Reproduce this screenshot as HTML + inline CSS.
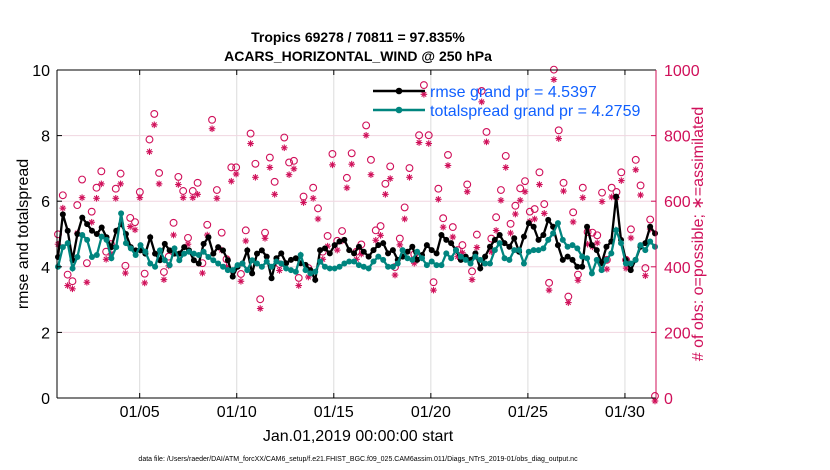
<!DOCTYPE html>
<html><head><meta charset="utf-8"><style>
html,body{margin:0;padding:0;background:#fff;}
svg{display:block;font-family:"Liberation Sans",sans-serif;}
</style></head><body>
<svg id="chart" width="830" height="470" viewBox="0 0 830 470" xmlns="http://www.w3.org/2000/svg">
<text x="358" y="42" font-size="14" font-weight="bold" text-anchor="middle">Tropics 69278 / 70811 = 97.835%</text>
<text x="358" y="61" font-size="14" font-weight="bold" text-anchor="middle">ACARS_HORIZONTAL_WIND @ 250 hPa</text>
<g id="grid"></g>
<g id="obs"></g>
<g id="lines"></g>
<g id="axes"></g>
<text transform="translate(28,234) rotate(-90)" font-size="16" text-anchor="middle">rmse and totalspread</text>
<text transform="translate(703,234) rotate(-90)" font-size="16" fill="#d0105a" text-anchor="middle"># of obs: o=possible; ∗=assimilated</text>
<text x="358" y="441" font-size="16" text-anchor="middle">Jan.01,2019 00:00:00 start</text>
<text x="358" y="461" font-size="7" text-anchor="middle">data file: /Users/raeder/DAI/ATM_forcXX/CAM6_setup/f.e21.FHIST_BGC.f09_025.CAM6assim.011/Diags_NTrS_2019-01/obs_diag_output.nc</text>
<g>
<line x1="373" y1="91" x2="425" y2="91" stroke="#000" stroke-width="2.5"/>
<circle cx="399" cy="91" r="3.3" fill="#000"/>
<text x="430" y="97" font-size="16" fill="#1060ff">rmse grand pr = 4.5397</text>
<line x1="373" y1="110" x2="425" y2="110" stroke="#00857f" stroke-width="2.5"/>
<circle cx="399" cy="110" r="3.3" fill="#00857f"/>
<text x="430" y="116" font-size="16" fill="#1060ff">totalspread grand pr = 4.2759</text>
</g>
</svg>
<script>
const dayTicks = [5,10,15,20,25,30];
const dayTickLabels = ["01/05","01/10","01/15","01/20","01/25","01/30"];
const leftTicks = [0,2,4,6,8,10];
const rightTicks = [0,200,400,600,800,1000];
const rmse = [4.3,5.6,5.1,4.2,5.0,5.5,5.3,5.1,5.0,5.2,4.9,4.6,5.1,5.3,5.0,4.6,4.5,4.5,4.4,4.9,4.4,4.2,4.7,4.5,4.4,4.4,4.6,4.5,4.2,4.1,4.7,4.9,4.4,4.6,4.5,4.2,3.7,4.0,4.1,4.5,3.8,4.4,4.5,
4.31,3.65,4.26,4.41,4.11,4.21,4.26,4.11,4.06,3.9,3.6,4.51,4.56,4.41,4.66,4.77,4.82,4.51,4.41,4.61,4.46,4.31,4.51,4.66,4.72,4.41,4.51,4.21,4.31,4.46,4.61,4.21,4.36,4.66,4.51,4.41,4.97,4.82,4.72,4.51,4.21,
4.31,4.21,4.41,3.95,4.31,4.61,4.82,4.97,4.72,4.61,4.87,4.46,4.92,5.33,5.22,4.82,4.97,5.43,5.22,4.66,4.21,4.31,4.21,4.0,4.0,5.22,4.66,4.51,4.11,4.61,4.77,6.14,4.82,4.21,3.9,4.21,4.61,4.72,5.22,5.02];
const spread = [4.0,4.6,4.72,3.95,4.3,4.97,4.82,4.3,4.36,4.92,4.82,4.26,4.6,5.63,4.72,4.56,4.36,4.66,4.46,4.1,4.0,4.5,4.2,4.05,4.56,4.2,4.4,4.46,4.4,4.36,4.46,4.3,4.2,4.1,4.0,3.9,3.9,4.05,4.1,3.9,4.2,4.1,
4.0,4.16,4.0,4.16,4.1,3.95,3.9,3.85,4.36,3.9,3.8,3.85,4.16,4.0,3.95,3.95,4.0,4.1,4.16,4.16,4.05,4.0,3.95,4.16,4.31,4.21,4.0,4.0,4.1,4.51,4.26,4.21,4.46,4.26,4.05,4.16,4.05,4.05,4.41,4.26,4.51,4.31,
4.21,4.1,4.31,4.21,4.1,4.1,4.51,4.72,4.26,4.21,4.51,4.51,4.1,4.46,4.51,4.51,4.56,4.82,5.02,5.33,4.82,4.61,4.66,4.56,4.31,4.26,3.8,4.21,3.9,4.21,4.41,5.12,4.72,4.1,4.1,4.21,4.66,4.51,4.77,4.61];
const possible = [493,612,370,350,582,660,405,562,635,685,440,463,632,678,397,543,530,622,373,782,860,680,378,425,528,668,625,482,625,650,405,522,842,628,498,417,697,697,372,
505,800,708,295,498,727,653,402,788,712,717,360,608,390,635,572,440,488,738,473,503,665,740,440,462,825,720,505,518,647,700,393,480,575,695,432,795,948,795,347,632,542,735,
515,445,460,645,380,492,930,805,480,545,628,732,525,580,633,655,562,570,682,585,345,995,810,650,303,560,370,635,500,498,490,620,415,635,622,682,415,508,720,642,390,538,0];
const assimilated = [478,588,352,342,512,620,362,545,618,662,432,449,618,662,390,532,522,620,360,760,842,662,370,412,506,660,620,478,620,630,390,506,830,618,460,410,670,692,365,
488,785,682,282,496,712,630,398,772,690,708,352,605,378,618,555,432,472,720,460,488,650,722,432,448,810,690,490,505,630,678,384,476,555,682,420,788,935,785,338,615,530,718,
500,440,452,638,370,468,912,790,455,520,612,712,512,570,612,638,548,555,660,572,338,980,800,640,300,546,368,620,478,470,482,608,402,622,620,672,405,497,705,628,382,524,0];

const X0=57, X1=656, Y0=398, Y1=70;
const dayStart=0.74, dayEnd=31.6;
function xDay(d){return X0+(d-dayStart)/(dayEnd-dayStart)*(X1-X0);}
function xIdx(i,n){return X0+1+i*(X1-X0-2)/(n-1);}
function yL(v){return Y0-v/10*(Y0-Y1);}
function yR(v){return Y0-v/1000*(Y0-Y1);}
const NS="http://www.w3.org/2000/svg";
function mk(tag,attrs,parent){const e=document.createElementNS(NS,tag);for(const k in attrs)e.setAttribute(k,attrs[k]);parent.appendChild(e);return e;}
const grid=document.getElementById('grid'),axes=document.getElementById('axes'),obs=document.getElementById('obs'),lines=document.getElementById('lines');
dayTicks.forEach((d,i)=>{
  const x=xDay(d);
  const g=mk('line',{x1:x,y1:Y1,x2:x,y2:Y0,stroke:'#dcdcdc','stroke-width':1},grid);
  
  
  mk('line',{x1:x,y1:Y0,x2:x,y2:Y0-5,stroke:'#000'},axes);
  mk('line',{x1:x,y1:Y1,x2:x,y2:Y1+5,stroke:'#000'},axes);
  const t=mk('text',{x:x,y:417,'font-size':16,'text-anchor':'middle'},axes);
  t.textContent=dayTickLabels[i];
  
  
});
leftTicks.forEach(v=>{
  const y=yL(v);
  if(v>0&&v<10){const g=mk('line',{x1:X0,y1:y,x2:X1,y2:y,stroke:'#f0d6e0','stroke-width':1},grid);
  
  }
  mk('line',{x1:X0,y1:y,x2:X0+5,y2:y,stroke:'#000'},axes);
  const t=mk('text',{x:50,y:y+6,'font-size':16,'text-anchor':'end'},axes);
  t.textContent=v;
  
  
});
rightTicks.forEach(v=>{
  const y=yR(v);
  mk('line',{x1:X1,y1:y,x2:X1-5,y2:y,stroke:'#d0105a'},axes);
  const t=mk('text',{x:664,y:y+6,'font-size':16,fill:'#d0105a'},axes);
  t.textContent=v;
  
  
});
mk('line',{x1:X0,y1:Y1,x2:X1,y2:Y1,stroke:'#000'},axes);
mk('line',{x1:X0,y1:Y0,x2:X1,y2:Y0,stroke:'#000'},axes);
mk('line',{x1:X0,y1:Y1,x2:X0,y2:Y0,stroke:'#000'},axes);
mk('line',{x1:X1,y1:Y1,x2:X1,y2:Y0,stroke:'#d0105a'},axes);
possible.forEach((v,i)=>{
  const c=mk('circle',{cx:xIdx(i,possible.length),cy:yR(v)-2,r:3.4,fill:'none',stroke:'#d0105a','stroke-width':1.1},obs);
  
  
});
assimilated.forEach((v,i)=>{
  const x=xIdx(i,assimilated.length),y=yR(v)+3;
  const g=mk('g',{stroke:'#d0105a','stroke-width':1.1},obs);
  
  
  mk('line',{x1:x-3.3,y1:y,x2:x+3.3,y2:y},g);
  mk('line',{x1:x,y1:y-3.3,x2:x,y2:y+3.3},g);
  mk('line',{x1:x-2.3,y1:y-2.3,x2:x+2.3,y2:y+2.3},g);
  mk('line',{x1:x-2.3,y1:y+2.3,x2:x+2.3,y2:y-2.3},g);
});
function series(arr,color,name){
  const p=mk('polyline',{points:arr.map((v,i)=>xIdx(i,arr.length)+','+yL(v)).join(' '),fill:'none',stroke:color,'stroke-width':2.3},lines);
  
  
  arr.forEach((v,i)=>{
    const c=mk('circle',{cx:xIdx(i,arr.length),cy:yL(v),r:3,fill:color},lines);
    
    
  });
}
series(rmse,'#000','rmse');
series(spread,'#00857f','totalspread');
</script>
</body></html>
